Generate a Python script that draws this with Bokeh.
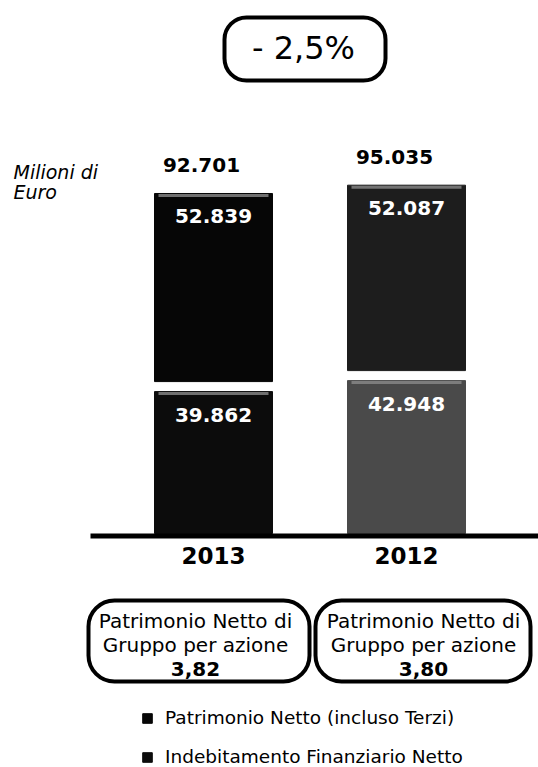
from bokeh.plotting import figure
from bokeh.models import ColumnDataSource, Range1d, BoxAnnotation, Label, Legend, LegendItem
from bokeh.core.properties import value
from bokeh.embed import file_html
from bokeh.resources import INLINE

# ---------------- data ----------------
years = ["2013", "2012"]
patrimonio_netto = [52839, 52087]          # Milioni di Euro
indebitamento = [39862, 42948]             # Milioni di Euro
pn_per_azione = [3.82, 3.80]
legend_labels = ["Patrimonio Netto (incluso Terzi)", "Indebitamento Finanziario Netto"]
unit_label = ["Milioni di", "Euro"]
box_caption = ["Patrimonio Netto di", "Gruppo per azione"]

# ---------------- layout helpers (page pixels -> data coords) ----------------
W, H = 538, 767
X0, XS = 213, 193            # page x of first category, px per category
BASE, YS = 533, 3.56 / 1000  # page y of baseline, px per million


def px(cx):
    return (cx - X0) / XS


def py(cy):
    return (BASE - cy) / YS


FONT = value("DejaVu Sans")


def fmt(v):
    return f"{v:,}".replace(",", ".")


idx = list(range(len(years)))
totals = [a + b for a, b in zip(patrimonio_netto, indebitamento)]
gap = 10 / YS
bar_w = 118 / XS

top_bottom = [d + gap for d in indebitamento]
top_top = [d + gap + e for d, e in zip(indebitamento, patrimonio_netto)]

src = ColumnDataSource(dict(
    x=idx,
    debt=indebitamento,
    top_bottom=top_bottom,
    top_top=top_top,
    top_color=["#060606", "#1d1d1d"],
    bot_color=["#0c0c0c", "#4a4a4a"],
    eq_lbl=[fmt(v) for v in patrimonio_netto],
    debt_lbl=[fmt(v) for v in indebitamento],
    tot_lbl=[fmt(v) for v in totals],
    year=years,
    eq_lbl_y=[t - 23 / YS for t in top_top],
    debt_lbl_y=[d - 23 / YS for d in indebitamento],
    tot_y=[t + 28 / YS for t in top_top],
    tot_x=[i - 12 / XS for i in idx],
    hl_top=[t - 2 / YS for t in top_top],
    hl_bot=[d - 2 / YS for d in indebitamento],
    x_l=[i - bar_w / 2 + 4 / XS for i in idx],
    x_r=[i + bar_w / 2 - 4 / XS for i in idx],
))

p = figure(width=W, height=H, x_range=Range1d(px(0), px(W)), y_range=Range1d(py(H), py(0)),
           output_backend="svg", toolbar_location=None, min_border=0,
           x_axis_location=None, y_axis_location=None)
p.grid.visible = False
p.outline_line_color = None
p.background_fill_color = "white"
p.border_fill_color = "white"

r_bot = p.vbar(x="x", width=bar_w, bottom=0, top="debt", source=src,
               fill_color="bot_color", line_color="bot_color")
r_top = p.vbar(x="x", width=bar_w, bottom="top_bottom", top="top_top", source=src,
               fill_color="top_color", line_color="top_color")

# light bevel strips on top of each segment
p.segment(x0="x_l", x1="x_r", y0="hl_top", y1="hl_top", source=src,
          line_color="#8a8a8a", line_width=3, line_alpha=0.8)
p.segment(x0="x_l", x1="x_r", y0="hl_bot", y1="hl_bot", source=src,
          line_color="#8a8a8a", line_width=3, line_alpha=0.8)

# baseline
p.segment(x0=[px(90)], x1=[px(W)], y0=[py(535.5)], y1=[py(535.5)],
          line_color="black", line_width=5)

# value labels
common = dict(source=src, text_font=FONT, text_font_style="bold", text_align="center",
              text_baseline="middle")
p.text(x="x", y="eq_lbl_y", text="eq_lbl", text_color="white", text_font_size="20px", **common)
p.text(x="x", y="debt_lbl_y", text="debt_lbl", text_color="white", text_font_size="20px", **common)
p.text(x="tot_x", y="tot_y", text="tot_lbl", text_color="black", text_font_size="20px", **common)
p.text(x="x", y=py(554.5), text="year", text_color="black", text_font_size="23px", **common)

# unit label
for k, t in enumerate(unit_label):
    p.add_layout(Label(x=px(13), y=py(171 + 20 * k), text=t, text_font="DejaVu Sans",
                       text_font_style="italic", text_font_size="19px",
                       text_color="black", text_baseline="middle"))

# change box
change = (totals[0] - totals[1]) / totals[1] * 100
change_txt = ("- " if change < 0 else "+ ") + f"{abs(change):.1f}".replace(".", ",") + "%"
p.add_layout(BoxAnnotation(left=px(224), right=px(385), top=py(17), bottom=py(80),
                           border_radius=22, line_color="black", line_alpha=1.0, line_width=4,
                           fill_color=None, fill_alpha=0))
p.add_layout(Label(x=px(303), y=py(47.5), text=change_txt, text_font="DejaVu Sans",
                   text_font_size="32px", text_color="black",
                   text_align="center", text_baseline="middle"))

# per-share boxes
box_geo = [(88, 309, 195), (315, 530, 423)]
for (l, r, cx), val in zip(box_geo, pn_per_azione):
    p.add_layout(BoxAnnotation(left=px(l), right=px(r), top=py(600), bottom=py(681),
                               border_radius=26, line_color="black", line_alpha=1.0,
                               line_width=4, fill_color=None, fill_alpha=0))
    for k, t in enumerate(box_caption):
        p.add_layout(Label(x=px(cx), y=py(620.5 + 24 * k), text=t, text_font="DejaVu Sans",
                           text_font_size="20px", text_color="black",
                           text_align="center", text_baseline="middle"))
    p.add_layout(Label(x=px(cx), y=py(668), text=f"{val:.2f}".replace(".", ","),
                       text_font="DejaVu Sans", text_font_style="bold", text_font_size="20px",
                       text_color="black", text_align="center", text_baseline="middle"))

legend = Legend(items=[LegendItem(label=legend_labels[0], renderers=[r_top], index=0),
                       LegendItem(label=legend_labels[1], renderers=[r_bot], index=0)],
                location=(141, 0), orientation="vertical",
                glyph_width=12, glyph_height=12, label_height=14, spacing=18,
                padding=0, margin=0, label_standoff=12, border_line_color=None,
                background_fill_alpha=0, label_text_font="DejaVu Sans",
                label_text_color="black", label_text_font_size="18.5px")
p.add_layout(legend)

open("out.html", "w").write(file_html(p, INLINE))
